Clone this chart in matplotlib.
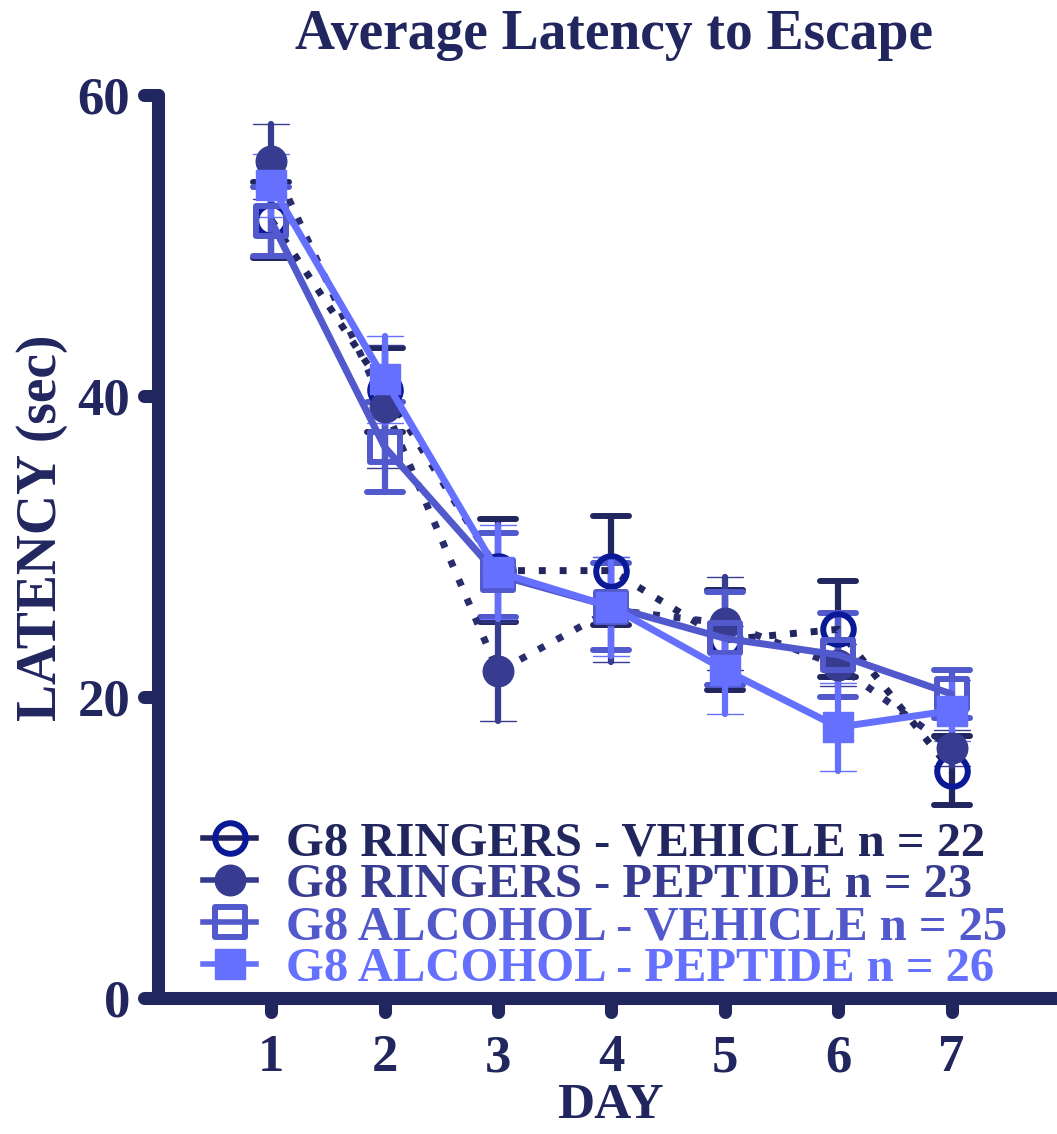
import matplotlib
matplotlib.use("Agg")
import matplotlib.pyplot as plt
from matplotlib.lines import Line2D
from matplotlib.markers import MarkerStyle, TICKLEFT, TICKDOWN

# data (mean latency, SEM)
days = [1, 2, 3, 4, 5, 6, 7]
rv_mean = [51.7, 40.4, 28.4, 28.4, 23.8, 24.5, 15.1]
rv_sem = [2.5, 2.8, 3.4, 3.6, 3.3, 3.2, 2.3]
rp_mean = [55.6, 39.3, 21.7, 25.8, 24.9, 22.1, 16.6]
rp_sem = [2.5, 4.1, 3.3, 3.5, 3.1, 1.4, 1.2]
av_mean = [51.6, 36.6, 28.1, 26.0, 23.9, 22.8, 20.2]
av_sem = [2.3, 3.0, 2.8, 2.9, 3.1, 2.8, 1.6]
ap_mean = [54.0, 41.1, 28.3, 26.0, 21.8, 18.0, 19.1]
ap_sem = [2.1, 2.9, 3.1, 3.3, 2.9, 2.9, 2.0]

labels = ["G8 RINGERS - VEHICLE n = 22",
          "G8 RINGERS - PEPTIDE n = 23",
          "G8 ALCOHOL - VEHICLE n = 25",
          "G8 ALCOHOL - PEPTIDE n = 26"]
yticks = [0, 20, 40, 60]

navy = '#22265f'
rv_col = '#0a1a96'
rp_col = '#383c90'
av_col = '#5259cc'
ap_col = '#6670fe'

plt.rcParams['font.family'] = ['Liberation Serif', 'DejaVu Serif']
plt.rcParams['font.weight'] = 'bold'

fig = plt.figure(figsize=(10.57, 11.34), dpi=100)
ax = fig.add_axes([0.1495, 0.1199, 0.8505, 0.7963])


def draw(mean, sem, ls, lcol, ecol, marker, mfc, mec, ms, mew):
    c = ax.errorbar(days, mean, yerr=sem, linestyle=ls, color=lcol, lw=5,
                    ecolor=ecol, elinewidth=4.5, capsize=13, capthick=5,
                    marker=MarkerStyle(marker, joinstyle='round'), ms=ms,
                    mfc=mfc, mec=mec, mew=mew, clip_on=False,
                    dash_capstyle='butt', solid_capstyle='round')
    for cap in c[1]:
        cap.set_marker(MarkerStyle('_', capstyle='round'))
    for bar in c[2]:
        bar.set_capstyle('round')
    return c


draw(rv_mean, rv_sem, (0, (1, 2)), navy, navy, 'o', 'none', rv_col, 22, 4.3)
draw(rp_mean, rp_sem, (0, (1, 2)), '#292d6e', rp_col, 'o', rp_col, rp_col, 22, 1)
draw(av_mean, av_sem, '-', av_col, av_col, 's', 'none', av_col, 21, 4.3)
draw(ap_mean, ap_sem, '-', ap_col, ap_col, 's', ap_col, ap_col, 22, 1)

ax.set_xlim(0, 7.93)
ax.set_ylim(0, 60)
for s in ['top', 'right']:
    ax.spines[s].set_visible(False)
for s in ['left', 'bottom']:
    ax.spines[s].set_linewidth(9.4)
    ax.spines[s].set_color(navy)
    ax.spines[s].set_capstyle('round')

ax.set_xticks(days)
ax.set_yticks(yticks)
ax.tick_params(axis='both', length=10, width=9.4, color=navy,
               labelcolor=navy, labelsize=38)
ax.tick_params(axis='y', pad=10)
ax.tick_params(axis='x', pad=16)
for t in ax.yaxis.get_major_ticks():
    t.tick1line.set_marker(MarkerStyle(TICKLEFT, capstyle='round'))
for t in ax.xaxis.get_major_ticks():
    t.tick1line.set_marker(MarkerStyle(TICKDOWN, capstyle='round'))

fig.text(0.581, 0.969, "Average Latency to Escape", ha='center', va='center',
         fontsize=40, color=navy, fontweight='bold')
fig.text(0.040, 0.535, "LATENCY (sec)", ha='center', va='center', rotation=90,
         fontsize=40, color=navy, fontweight='bold')
fig.text(0.577, 0.004, "DAY", ha='center', va='bottom',
         fontsize=37, color=navy, fontweight='bold')

handles = [
    Line2D([], [], color=navy, lw=4, marker='o', ms=22, mfc='none', mec=rv_col, mew=4.3),
    Line2D([], [], color=rp_col, lw=4, marker='o', ms=22, mfc=rp_col, mec=rp_col, mew=1),
    Line2D([], [], color=av_col, lw=4, marker=MarkerStyle('s', joinstyle='round'), ms=21,
           mfc='none', mec=av_col, mew=4.3),
    Line2D([], [], color=ap_col, lw=4, marker='s', ms=22, mfc=ap_col, mec=ap_col, mew=1),
]
fig.legend(handles, labels, loc='upper left', bbox_to_anchor=(0.192, 0.276),
           frameon=False, fontsize=35, borderpad=0, borderaxespad=0,
           handlelength=1.1, handletextpad=0.6, labelspacing=-0.04,
           labelcolor=[navy, rp_col, av_col, ap_col])

fig.savefig("out.png", dpi=100)
